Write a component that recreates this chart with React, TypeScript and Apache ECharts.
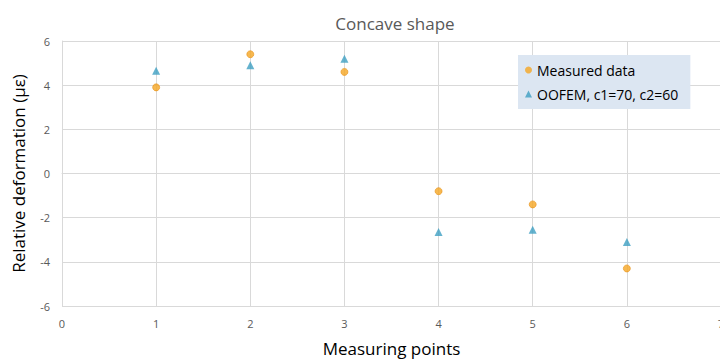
import React, { useEffect, useRef } from "react";
import * as echarts from "echarts";

const xPoints = [1, 2, 3, 4, 5, 6];
const measured = [3.9, 5.4, 4.6, -0.8, -1.4, -4.3];
const oofem = [4.65, 4.9, 5.2, -2.65, -2.55, -3.1];
const seriesNames = ["Measured data", "OOFEM, c1=70, c2=60"];

export default function App() {
  const ref = useRef<HTMLDivElement>(null);
  useEffect(() => {
    const chart = echarts.init(ref.current!, null, { renderer: "svg" });
    const font = "'Open Sans', 'Noto Sans', sans-serif";
    chart.setOption({
      animation: false,
      backgroundColor: "#ffffff",
      textStyle: { fontFamily: font },
      title: {
        text: "Concave shape",
        left: 390,
        top: 10,
        textAlign: "center",
        textStyle: { fontSize: 17, fontWeight: "normal", color: "#595959", fontFamily: font },
      },
      legend: {
        left: 518,
        top: 55,
        orient: "vertical",
        backgroundColor: "#dce6f2",
        padding: [5, 12, 5, 7],
        itemGap: 4,
        itemWidth: 7,
        itemHeight: 7,
        itemStyle: { borderWidth: 0 },
        textStyle: { fontSize: 14, color: "#000000", fontFamily: font, lineHeight: 20 },
        data: seriesNames,
      },
      grid: { left: 62, top: 41, width: 659, height: 265, outerBoundsMode: "none", containLabel: false },
      xAxis: {
        type: "value",
        min: 0,
        max: 7,
        interval: 1,
        name: "Measuring points",
        nameLocation: "middle",
        nameGap: 34,
        nameTextStyle: { fontSize: 17, color: "#000000", fontFamily: font },
        axisLine: { show: true, lineStyle: { color: "#d9d9d9" } },
        axisTick: { show: false },
        axisLabel: { color: "#595959", fontSize: 11, margin: 12 },
        splitLine: { show: true, lineStyle: { color: "#d9d9d9" } },
      },
      yAxis: {
        type: "value",
        min: -6,
        max: 6,
        interval: 2,
        name: "Relative deformation (με)",
        nameLocation: "middle",
        nameGap: 35,
        nameTextStyle: { fontSize: 17, color: "#000000", fontFamily: font },
        axisLine: { show: true, lineStyle: { color: "#d9d9d9" } },
        axisTick: { show: false },
        axisLabel: { color: "#595959", fontSize: 11, margin: 12 },
        splitLine: { show: true, lineStyle: { color: "#d9d9d9" } },
      },
      series: [
        {
          name: seriesNames[0],
          type: "scatter",
          symbol: "circle",
          symbolSize: 7,
          itemStyle: { color: "#f5a623", borderColor: "#e8921a", borderWidth: 0.8 },
          data: xPoints.map((x, i) => [x, measured[i]]),
        },
        {
          name: seriesNames[1],
          type: "scatter",
          symbol: "triangle",
          symbolSize: 8,
          itemStyle: { color: "#3d9fc2" },
          data: xPoints.map((x, i) => [x, oofem[i]]),
        },
      ],
    });
    return () => chart.dispose();
  }, []);
  return <div ref={ref} style={{ width: 720, height: 361, position: "absolute", left: 0, top: 0 }} />;
}
